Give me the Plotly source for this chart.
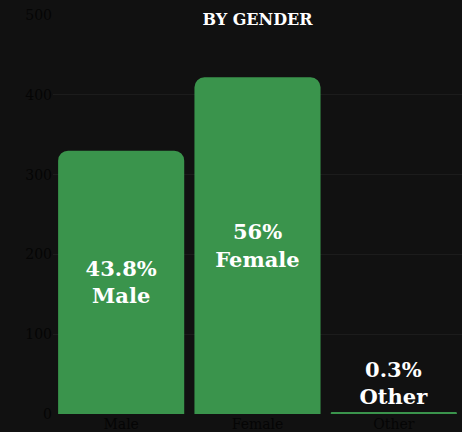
import plotly.graph_objects as go

# ==========================================================
# DATA
# ==========================================================

genders = ["Male", "Female", "Other"]
counts = [330, 422, 2]
shares = ["43.8%", "56%", "0.3%"]

BACKGROUND = "#111111"
GREEN = "#3A944C"
GRID = "#1C1C1C"
TICK = "#050505"

FONT = dict(family="DejaVu Serif", size=14, color=TICK)

labels = [f"{s}<br>{g}" for s, g in zip(shares, genders)]

fig = go.Figure()

fig.add_trace(
    go.Bar(
        x=genders,
        y=counts,
        text=labels,
        textposition=["inside", "inside", "outside"],
        insidetextanchor="middle",
        textfont=dict(family="DejaVu Serif", size=21, color="white", weight="bold"),
        outsidetextfont=dict(family="DejaVu Serif", size=21, color="white", weight="bold"),
        marker=dict(color=GREEN, line_width=0, cornerradius=10),
        cliponaxis=False,
    )
)

fig.update_layout(
    paper_bgcolor=BACKGROUND,
    plot_bgcolor=BACKGROUND,
    font=FONT,
    width=462,
    height=432,
    bargap=0.075,
    showlegend=False,
    margin=dict(l=53, r=0, t=15, b=18),
    title=dict(
        text="BY GENDER",
        x=0.5,
        xref="paper",
        y=0.955,
        yanchor="middle",
        font=dict(family="DejaVu Serif", size=16, color="white", weight="bold"),
    ),
)

fig.update_yaxes(
    range=[0, 500],
    dtick=100,
    gridcolor=GRID,
    zeroline=False,
    tickfont=dict(family="DejaVu Serif", size=14, color=TICK),
)

fig.update_xaxes(
    showgrid=False,
    tickfont=dict(family="DejaVu Serif", size=14, color=TICK),
)

fig.write_html(
    "out.html",
    config=dict(displayModeBar=False),
    post_script="document.body.style.margin='0';document.body.style.overflow='hidden';",
)
